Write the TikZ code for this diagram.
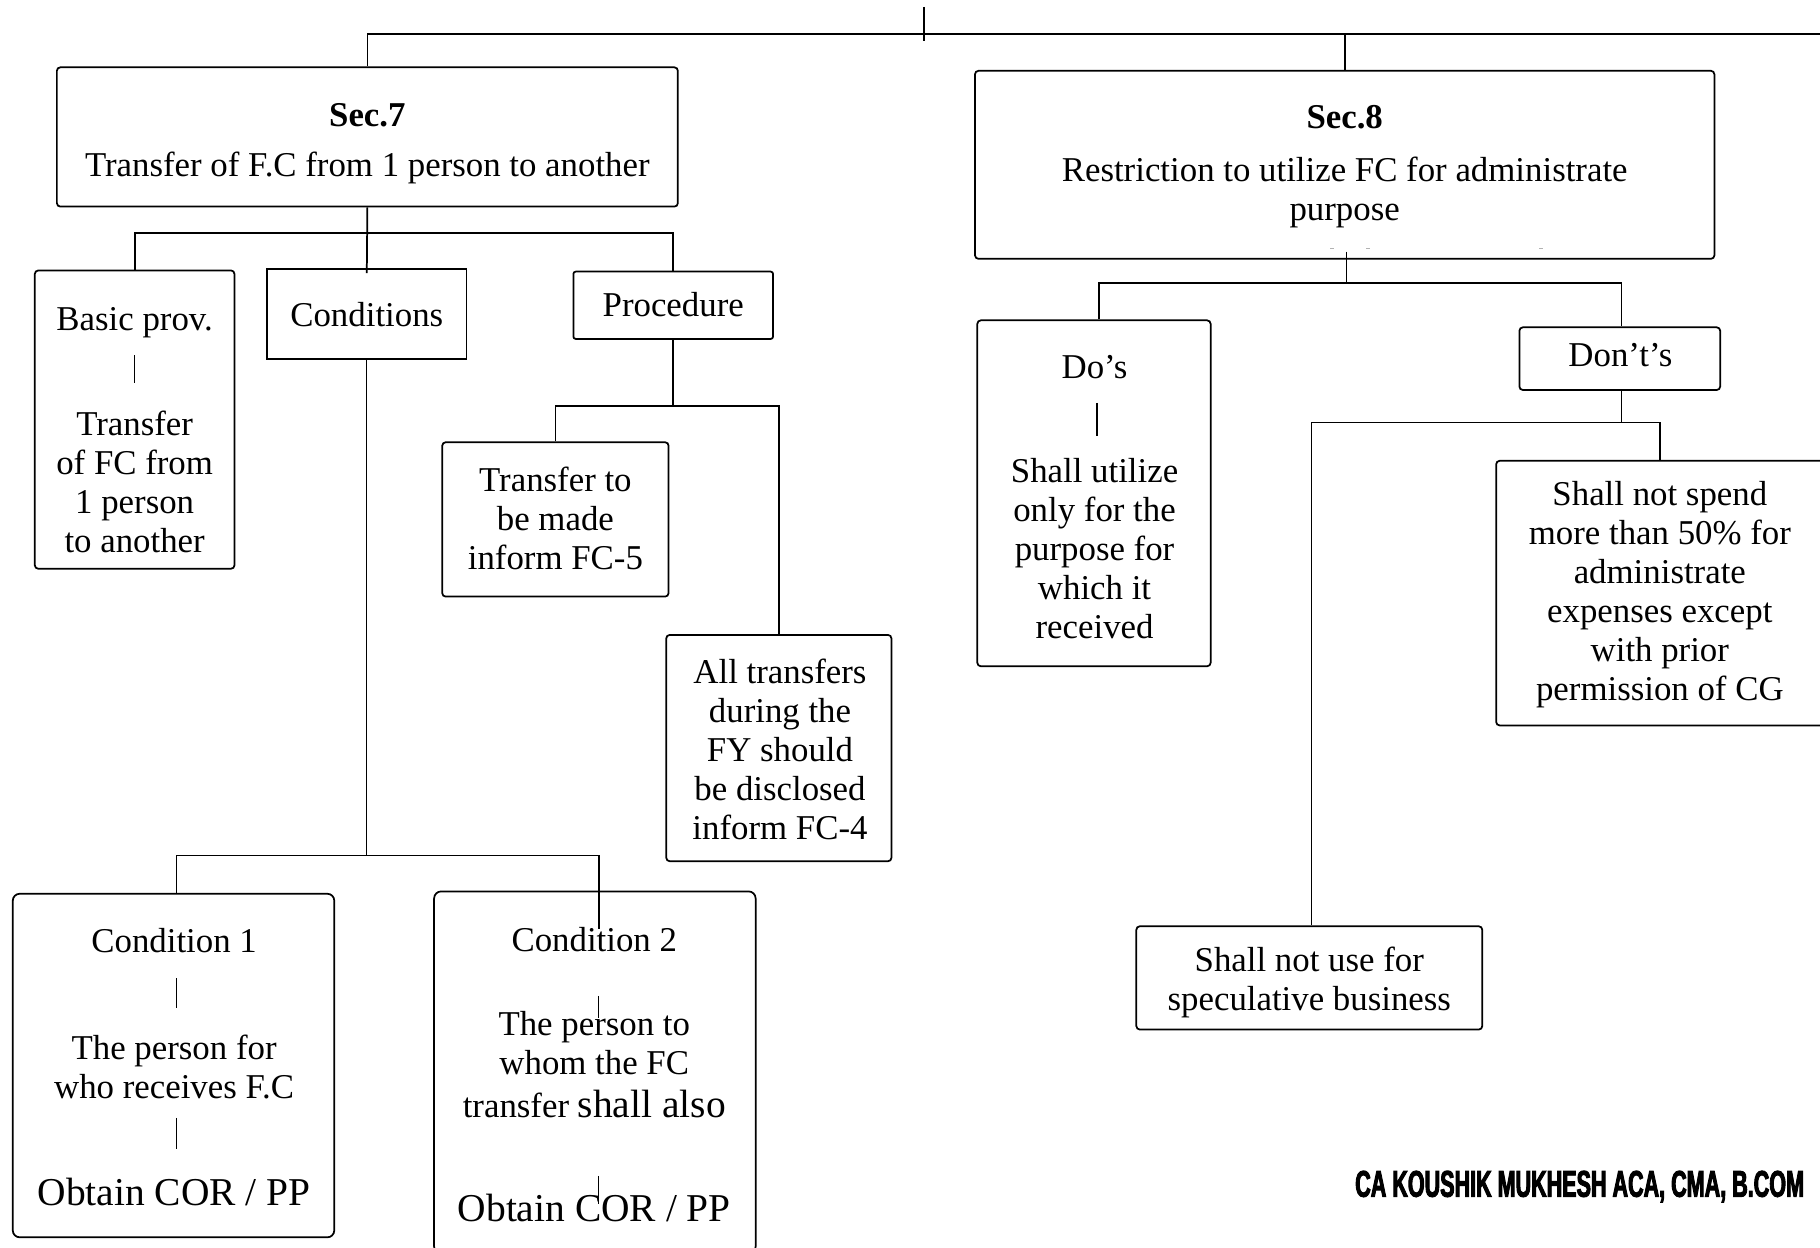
\documentclass[tikz,border=0pt]{standalone}
\usepackage{fontspec}
\setmainfont{Liberation Serif}
\setsansfont{Liberation Sans}
\newfontfamily\signfont{Liberation Sans}[BoldFeatures={FakeBold=2.5}, FakeStretch=0.58]
\begin{document}
\begin{tikzpicture}[x=1pt,y=-1pt,
  line width=1.5pt,
  box/.style={draw, rounded corners=3pt, line width=1.5pt, inner sep=0pt},
  sqbox/.style={draw, line width=1.5pt, inner sep=0pt},
  txt/.style={font=\fontsize{30}{33.6}\selectfont, align=center, inner sep=0pt},
  big/.style={font=\fontsize{34}{38}\selectfont, align=center, inner sep=0pt},
  head/.style={font=\fontsize{30}{33.6}\selectfont\bfseries, inner sep=0pt},
  bar/.style={line width=1.2pt},
  link/.style={line width=1.5pt}]

\fill[white] (0,0) rectangle (1568,1075);
\useasboundingbox (0,0) rectangle (1568,1075);

% ---------- boxes ----------
\node[box, minimum width=535pt, minimum height=120pt] (sec7) at (316.5,118) {};
\node[box, minimum width=637pt, minimum height=162pt] (sec8) at (1158.5,142) {};
\node[box, minimum width=172pt, minimum height=257pt] (basic) at (116,361.5) {};
\node[sqbox, minimum width=172pt, minimum height=77pt] (cond) at (316,270.5) {};
\node[box, rounded corners=2pt, minimum width=172pt, minimum height=58pt] (proc) at (580,263) {};
\node[box, minimum width=195pt, minimum height=133pt] (tr5) at (478.5,447.5) {};
\node[box, minimum width=194pt, minimum height=195pt] (tr4) at (671,644.5) {};
\node[box, rounded corners=6pt, minimum width=277pt, minimum height=296pt] (c1) at (149.5,918) {};
\node[box, rounded corners=6pt, minimum width=277pt, minimum height=312pt] (c2) at (512.5,924) {};
\node[box, minimum width=201pt, minimum height=298pt] (dos) at (942.5,425) {};
\node[box, minimum width=173pt, minimum height=54pt] (donts) at (1395.5,309) {};
\node[box, minimum width=282pt, minimum height=228pt] (spend) at (1430,511) {};
\node[box, minimum width=298pt, minimum height=89pt] (spec) at (1128,842.5) {};

% ---------- texts ----------
\node[head, anchor=base] (sec7h) at (316.5,109) {Sec.7};
\node[txt, anchor=base] (sec7t) at (316.5,152) {Transfer of F.C from 1 person to another};

\node[head, anchor=base] (sec8h) at (1158.5,111) {Sec.8};
\node[txt, anchor=base] (sec8t) at (1158.5,156) {Restriction to utilize FC for administrate};
\node[txt, anchor=base] (sec8u) at (1158.5,190) {purpose};

\node[txt, anchor=base] (basich) at (116,285) {Basic prov.};
\node[txt] (basict) at (116,415) {Transfer\\of FC from\\1 person\\to another};

\node[txt, anchor=base] (condh) at (316,281) {Conditions};
\node[txt, anchor=base] (proch) at (580,273) {Procedure};

\node[txt] (tr5t) at (478.5,447) {Transfer to\\be made\\inform FC-5};
\node[txt] (tr4t) at (672,646) {All transfers\\during the\\FY should\\be disclosed\\inform FC-4};

\node[txt, anchor=base] (c1h) at (150,821) {Condition 1};
\node[txt] (c1t) at (150,919) {The person for\\who receives F.C};
\node[big, anchor=base] (c1o) at (150,1039) {Obtain COR / PP};

\node[txt, anchor=base] (c2h) at (512,820) {Condition 2};
\node[txt] (c2t) at (512,899) {The person to\\whom the FC};
\node[anchor=base, inner sep=0pt] (c2s) at (512,963)
  {\fontsize{30}{33.6}\selectfont transfer \fontsize{34}{38}\selectfont shall also};
\node[big, anchor=base] (c2o) at (512,1052) {Obtain COR / PP};

\node[txt, anchor=base] (dosh) at (943,326) {Do’s};
\node[txt] (dost) at (943,473) {Shall utilize\\only for the\\purpose for\\which it\\received};

\node[txt, anchor=base] (dontsh) at (1396,316) {Don’t’s};
\node[txt] (spendt) at (1430,512) {Shall not spend\\more than 50\% for\\administrate\\expenses except\\with prior\\permission of CG};
\node[txt] (spect) at (1128,846) {Shall not use for\\speculative business};

\node[anchor=base east, inner sep=0pt] (sign) at (1555,1031)
  {\fontsize{32}{34}\selectfont\signfont\bfseries CA KOUSHIK MUKHESH ACA, CMA, B.COM};

% ---------- separators inside boxes ----------
\draw[bar] (116,306) -- (116,330);
\draw[bar] (945,347) -- (945,376);
\draw[bar] (152,843) -- (152,868);
\draw[bar] (152,963) -- (152,990);
\draw[line width=0.9pt] (516,858) -- (516,877);
\draw[line width=0.9pt] (516,1013) -- (516,1037);
\draw[gray!60, line width=0.8pt] (1146,214) -- (1149,214);
\draw[gray!60, line width=0.8pt] (1177,214) -- (1180,214);
\draw[gray!60, line width=0.8pt] (1326,214) -- (1329,214);

% ---------- connectors ----------
\coordinate (topend) at (1575,29);
\coordinate (tickA) at (796,6);
\coordinate (tickB) at (796,35);
\draw[link] (sec7.north) -- (sec7.north |- topend) -- (topend);
\draw[link] (sec8.north) -- (sec8.north |- topend);
\draw[bar] (tickA) -- (tickB);

\coordinate (b7) at (0,201);
\draw[link] (sec7.south) -- ([yshift=-4pt]cond.north);
\draw[link] (basic.north) -- (basic.north |- b7) -- (proc.north |- b7) -- (proc.north);

\coordinate (bc) at (0,737);
\coordinate (c2in) at (516,800);
\draw[line width=1.1pt] (cond.south) -- (cond.south |- bc);
\draw[link] ([xshift=2.5pt]c1.north) -- ([xshift=2.5pt]c1.north |- bc) -- (c2in |- bc) -- (c2in);

\coordinate (bp) at (0,350);
\draw[line width=2pt] (proc.south) -- (proc.south |- bp);
\draw[link] (tr5.north) -- (tr5.north |- bp) -- (tr4.north |- bp) -- (tr4.north);

\coordinate (b8) at (0,244);
\draw[link] ([yshift=7pt, xshift=1.5pt]sec8.south) -- ([xshift=1.5pt]sec8.south |- b8);
\draw[link] ([xshift=4pt]dos.north) -- ([xshift=4pt]dos.north |- b8) -- ([xshift=1.5pt]donts.north |- b8) -- ([xshift=1.5pt]donts.north);

\coordinate (bd) at (0,364);
\draw[link] ([xshift=1.5pt]donts.south) -- ([xshift=1.5pt]donts.south |- bd);
\draw[link] ([xshift=2pt]spec.north) -- ([xshift=2pt]spec.north |- bd) -- (spend.north |- bd) -- (spend.north);

\end{tikzpicture}
\end{document}
